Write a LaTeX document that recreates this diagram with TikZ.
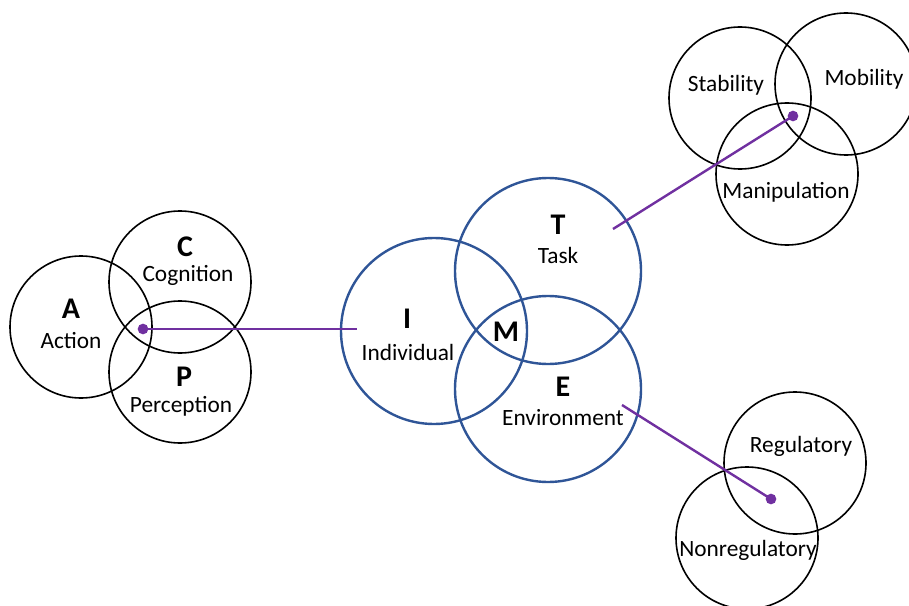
\documentclass[tikz,border=0pt]{standalone}
\usepackage{fontspec}
\setmainfont{Carlito}
\definecolor{vblue}{HTML}{2F5597}
\definecolor{vpurple}{HTML}{7030A0}
\begin{document}
\begin{tikzpicture}[x=0.75pt,y=-0.75pt,
  smallc/.style={circle,draw=black,line width=1.2pt,minimum size=106.5pt,inner sep=0pt},
  bigc/.style={circle,draw=vblue,line width=1.8pt,minimum size=139.5pt,inner sep=0pt},
  lbl/.style={font=\fontsize{17.5}{19}\selectfont,inner sep=0pt},
  big/.style={font=\fontsize{22.5}{24}\selectfont\bfseries,inner sep=0pt},
  link/.style={draw=vpurple,line width=1.8pt},
  dotc/.style={fill=vpurple,circle,inner sep=0pt,minimum size=8pt}]
\useasboundingbox (0,0) rectangle (909,606);
\clip (0,0) rectangle (909,606);
% left cluster
\node[smallc] (cA) at (81,327) {};
\node[smallc] (cC) at (180,282) {};
\node[smallc] (cP) at (180,372) {};
\node[big] (tA) at (71,309) {A};
\node[lbl] (lA) at (71,341) {Action};
\node[big] (tC) at (185,247) {C};
\node[lbl] (lC) at (188,275) {Cognition};
\node[big] (tP) at (184,377) {P};
\node[lbl] (lP) at (181,406) {Perception};
% centre
\node[bigc] (cI) at (434,331) {};
\node[bigc] (cT) at (548,271) {};
\node[bigc] (cE) at (548,389) {};
\node[big] (tI) at (407,319) {I};
\node[lbl] (lI) at (408,352) {Individual};
\node[big] (tM) at (506,332) {M};
\node[big] (tT) at (558,225) {T};
\node[lbl] (lT) at (558,255) {Task};
\node[big] (tE) at (563,387) {E};
\node[lbl] (lE) at (563,418) {Environment};
% top right
\node[smallc] (cS) at (740,98) {};
\node[smallc] (cMo) at (846,84) {};
\node[smallc] (cMa) at (787,174) {};
\node[lbl] (lS) at (726,85) {Stability};
\node[lbl] (lMo) at (864,79) {Mobility};
\node[lbl] (lMa) at (786,192) {Manipulation};
% bottom right
\node[smallc] (cR) at (795,463) {};
\node[smallc] (cN) at (747,538) {};
\node[lbl] (lR) at (801,446) {Regulatory};
\node[lbl] (lN) at (748,550) {Nonregulatory};
% connectors
\node[dotc] (d1) at (143,329) {};
\coordinate (e1) at (357,329);
\node[dotc] (d2) at (793,116) {};
\coordinate (e2) at (613,229);
\node[dotc] (d3) at (771,499) {};
\coordinate (e3) at (622,405);
\draw[link] (d1.center) -- (e1);
\draw[link] (e2) -- (d2.center);
\draw[link] (e3) -- (d3.center);
\end{tikzpicture}
\end{document}
